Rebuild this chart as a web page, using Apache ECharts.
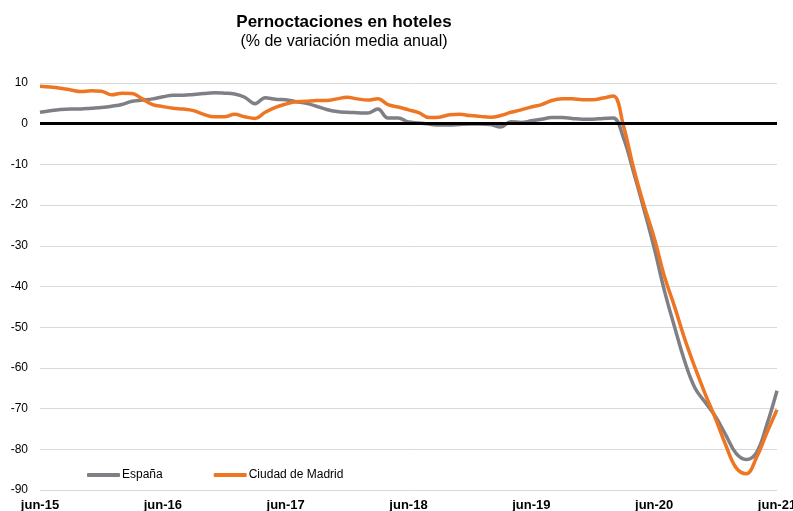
<!DOCTYPE html>
<html>
<head>
<meta charset="utf-8">
<script src="https://cdn.jsdelivr.net/npm/echarts@6/dist/echarts.min.js"></script>
<style>
  html, body { margin: 0; padding: 0; background: #fff; }
  #chart { width: 793px; height: 511px; }
</style>
</head>
<body>
<div id="chart"></div>
<script>
// meses jun-15 .. jun-21
const monthNames = ['ene', 'feb', 'mar', 'abr', 'may', 'jun', 'jul', 'ago', 'sep', 'oct', 'nov', 'dic']
const categories = []
for (let y = 15; y <= 21; y++) {
  for (let m = 0; m < 12; m++) {
    if ((y === 15 && m < 5) || (y === 21 && m > 5)) continue
    categories.push(monthNames[m] + '-' + y)
  }
}

const espana = [
  2.8, 3.2, 3.5, 3.6, 3.6, 3.8, 4.0, 4.3, 4.7, 5.5, 5.8, 6.1,
  6.6, 7.0, 7.0, 7.2, 7.4, 7.6, 7.5, 7.3, 6.5, 4.9, 6.4, 6.0,
  5.9, 5.4, 5.0, 4.3, 3.5, 3.0, 2.8, 2.7, 2.6, 3.6, 1.4, 1.4,
  0.4, 0.2, -0.1, -0.3, -0.3, -0.2, -0.1, -0.1, -0.2, -0.8, 0.5, 0.3,
  0.7, 1.1, 1.5, 1.5, 1.3, 1.1, 1.1, 1.3, 1.4, -3.5, -12, -21,
  -30.5, -41, -50, -58.5, -65, -68.5, -72, -76.5, -81, -82.5, -80.8, -74,
  -65.6
]

const madrid = [
  9.2, 9.0, 8.7, 8.3, 7.9, 8.1, 8.0, 7.1, 7.5, 7.4, 6.1, 4.7,
  4.2, 3.8, 3.6, 3.2, 2.3, 1.7, 1.7, 2.3, 1.7, 1.3, 2.8, 4.0,
  4.8, 5.4, 5.5, 5.7, 5.7, 6.1, 6.5, 6.1, 5.8, 6.1, 4.7, 4.1,
  3.4, 2.7, 1.5, 1.6, 2.2, 2.3, 2.0, 1.8, 1.6, 2.0, 2.8, 3.4,
  4.1, 4.7, 5.7, 6.1, 6.1, 5.9, 5.9, 6.3, 6.8, -0.5, -11, -20,
  -28, -37.5, -45, -53, -60, -66.5, -72.5, -79, -84.5, -86, -82, -76,
  -70.3
]

const FONT = 'Liberation Sans, Arial, sans-serif'

const myEcharts = echarts.init(document.getElementById('chart'))
const option = {
  animation: false,
  title: {
    text: 'Pernoctaciones en hoteles',
    subtext: '(% de variación media anual)',
    left: 339,
    top: 9,
    textAlign: 'center',
    itemGap: 3,
    textStyle: { fontFamily: FONT, fontSize: 17, fontWeight: 'bold', color: '#000' },
    subtextStyle: { fontFamily: FONT, fontSize: 16, color: '#000' }
  },
  legend: {
    left: 82,
    top: 464,
    itemWidth: 33,
    itemHeight: 4,
    itemGap: 51,
    icon: 'roundRect',
    textStyle: { fontFamily: FONT, fontSize: 12, color: '#000', padding: [0, 0, 0, -3] },
    data: ['España', 'Ciudad de Madrid']
  },
  grid: { left: 40, right: 16, top: 83, bottom: 21, outerBoundsMode: 'none' },
  xAxis: {
    type: 'category',
    data: categories,
    boundaryGap: false,
    axisLine: { show: false },
    axisTick: { show: false },
    axisLabel: {
      interval: 11,
      margin: 9,
      fontFamily: FONT,
      fontSize: 13,
      fontWeight: 'bold',
      color: '#000'
    },
    splitLine: { show: false }
  },
  yAxis: {
    type: 'value',
    min: -90,
    max: 10,
    interval: 10,
    axisLine: { show: false },
    axisTick: { show: false },
    axisLabel: { margin: 12, fontFamily: FONT, fontSize: 12, color: '#000' },
    splitLine: { lineStyle: { color: '#d9d9d9', width: 1 } }
  },
  series: [
    {
      name: 'España',
      type: 'line',
      data: espana,
      smooth: 0.4,
      showSymbol: false,
      color: '#7f7f85',
      lineStyle: { width: 3.5, color: '#7f7f85' },
      markLine: {
        silent: true,
        symbol: 'none',
        label: { show: false },
        lineStyle: { color: '#000', width: 3, type: 'solid' },
        data: [{ yAxis: 0 }]
      },
      z: 3
    },
    {
      name: 'Ciudad de Madrid',
      type: 'line',
      data: madrid,
      smooth: 0.4,
      showSymbol: false,
      color: '#ee7623',
      lineStyle: { width: 3.5, color: '#ee7623' },
      z: 4
    }
  ]
}
myEcharts.setOption(option)
</script>
</body>
</html>
